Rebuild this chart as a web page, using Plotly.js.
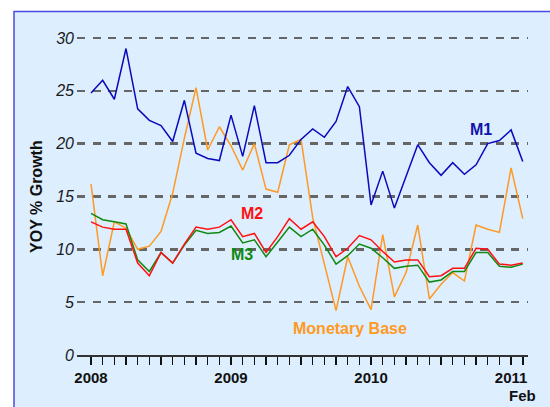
<!DOCTYPE html>
<html>
<head>
<meta charset="utf-8">
<script src="https://cdn.plot.ly/plotly-3.0.1.min.js"></script>
<style>html,body{margin:0;padding:0;background:#fff;}#chart{width:550px;height:407px;}</style>
</head>
<body>
<div id="chart"></div>
<script>
// Months Jan 2008 .. Feb 2011 (index 0..37)
const months = Array.from({length: 38}, (_, i) => i);
const yearTickLabels = {0: '2008', 12: '2009', 24: '2010', 36: '2011'};

const m1 = [24.8, 26.0, 24.2, 29.0, 23.3, 22.2, 21.7, 20.2, 24.1, 19.1, 18.6, 18.4,
            22.7, 18.8, 23.6, 18.2, 18.2, 18.9, 20.4, 21.4, 20.6, 22.1, 25.4, 23.5,
            14.2, 17.4, 13.9, 17.0, 19.9, 18.2, 17.0, 18.2, 17.1, 18.0, 20.0, 20.3,
            21.3, 18.3];
const m2 = [12.6, 12.1, 11.9, 11.9, 8.7, 7.5, 9.7, 8.7, 10.5, 12.1, 11.9, 12.1,
            12.8, 11.2, 11.5, 9.7, 11.2, 12.9, 11.9, 12.6, 11.2, 9.3, 10.1, 11.3,
            10.9, 9.8, 8.8, 9.0, 9.0, 7.4, 7.5, 8.2, 8.2, 10.1, 10.0, 8.6,
            8.5, 8.7];
const m3 = [13.4, 12.8, 12.6, 12.4, 9.0, 7.9, 9.7, 8.7, 10.4, 11.8, 11.5, 11.6,
            12.2, 10.6, 10.9, 9.3, 10.7, 12.1, 11.2, 11.9, 10.4, 8.6, 9.4, 10.5,
            10.1, 9.2, 8.2, 8.4, 8.5, 6.9, 7.1, 7.9, 7.9, 9.7, 9.7, 8.4,
            8.3, 8.6];
const monetaryBase = [16.2, 7.5, 12.6, 12.0, 10.0, 10.3, 11.7, 15.3, 20.5, 25.3, 19.4, 21.6,
            19.8, 17.5, 20.0, 15.7, 15.4, 19.9, 20.4, 13.0, 8.6, 4.2, 9.3, 6.5,
            4.3, 11.4, 5.5, 7.8, 12.3, 5.3, 6.7, 7.8, 7.0, 12.3, 11.9, 11.6,
            17.7, 12.9];
const yTicks = [0, 5, 10, 15, 20, 25, 30];

const font = 'Liberation Sans, Arial, Helvetica, sans-serif';

function line(y, name, color) {
  return {x: months, y: y, name: name, type: 'scatter', mode: 'lines',
          line: {color: color, width: 1.5}, hoverinfo: 'skip'};
}

const traces = [
  line(monetaryBase, 'Monetary Base', '#FF9922'),
  line(m3, 'M3', '#118811'),
  line(m2, 'M2', '#FF1111'),
  line(m1, 'M1', '#0A0ABB')
];

const layout = {
  width: 550, height: 407,
  margin: {l: 77, r: 22, t: 33, b: 52},
  paper_bgcolor: '#ffffff',
  plot_bgcolor: '#DDEEFF',
  showlegend: false,
  font: {family: font, color: '#111'},
  xaxis: {
    range: [-1.2, 37.45],
    tickvals: months,
    ticktext: months.map(m => yearTickLabels[m] || ''),
    ticks: 'outside', ticklen: 8, tickwidth: 1.5, tickcolor: '#111',
    showgrid: false, zeroline: false,
    showline: true, linecolor: '#333', linewidth: 2,
    tickfont: {family: font, size: 15, weight: 'bold', color: '#111'},
    tickangle: 0, fixedrange: true
  },
  yaxis: {
    range: [0, 30.47],
    tickvals: yTicks,
    ticks: '', showline: false, zeroline: false,
    showgrid: true, gridcolor: '#666666', gridwidth: 2.5, griddash: '8px,7.5px',
    tickfont: {family: font, size: 16, style: 'italic', color: '#1a1a1a'},
    ticklabelstandoff: 2,
    fixedrange: true
  },
  shapes: [
    {type: 'rect', xref: 'paper', yref: 'paper', layer: 'below',
     x0: -0.1397, x1: 1.1, y0: -0.25, y1: 1.067,
     fillcolor: '#DDEEFF', line: {color: '#4A4AE6', width: 1.5}}
  ],
  annotations: [
    {text: '<b>YOY % Growth</b>', xref: 'paper', yref: 'paper', x: -0.0887, y: 0.494,
     xanchor: 'center', yanchor: 'middle',
     textangle: -90, showarrow: false, font: {family: font, size: 16, color: '#111'}},
    {text: '<b>M1</b>', x: 33.4, y: 21.3, showarrow: false,
     font: {family: font, size: 16, color: '#1414A8'}},
    {text: '<b>M2</b>', x: 13.8, y: 13.4, showarrow: false,
     font: {family: font, size: 16, color: '#FF1111'}},
    {text: '<b>M3</b>', x: 12.96, y: 9.5, showarrow: false,
     font: {family: font, size: 16, color: '#118811'}},
    {text: '<b>Monetary Base</b>', x: 22.2, y: 2.55, showarrow: false,
     font: {family: font, size: 16, color: '#FF9922'}},
    {text: '<b>Feb</b>', x: 37, xref: 'x', yref: 'paper', y: -0.127,
     xanchor: 'center', yanchor: 'middle', showarrow: false,
     font: {family: font, size: 15, color: '#111'}}
  ]
};

Plotly.newPlot('chart', traces, layout, {staticPlot: true, displayModeBar: false});
</script>
</body>
</html>
